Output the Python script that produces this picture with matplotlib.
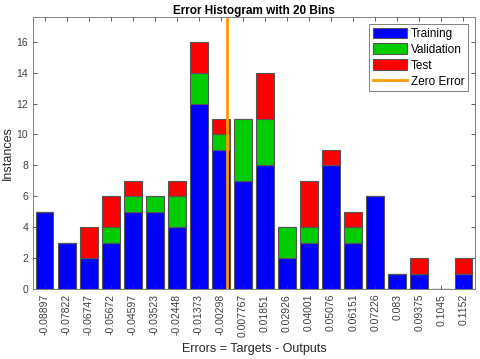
#!/usr/bin/env python3
import numpy as np
import matplotlib
matplotlib.use("Agg")
import matplotlib.pyplot as plt

# Bin centers (tick labels) and counts per bin
bin_labels = ["-0.08897", "-0.07822", "-0.06747", "-0.05672", "-0.04597",
              "-0.03523", "-0.02448", "-0.01373", "-0.00298", "0.007767",
              "0.01851", "0.02926", "0.04001", "0.05076", "0.06151",
              "0.07226", "0.083", "0.09375", "0.1045", "0.1152"]
bin_centers = [float(s) for s in bin_labels]
training = [5, 3, 2, 3, 5, 5, 4, 12, 9, 7, 8, 2, 3, 8, 3, 6, 1, 1, 0, 1]
validation = [0, 0, 0, 1, 1, 1, 2, 2, 1, 4, 3, 2, 1, 0, 1, 0, 0, 0, 0, 0]
test = [0, 0, 2, 2, 1, 0, 1, 2, 1, 0, 3, 0, 3, 1, 1, 0, 0, 1, 0, 1]

plt.rcParams['font.family'] = ['Liberation Sans', 'DejaVu Sans']

fig = plt.figure(figsize=(4.8, 3.59), dpi=100)
ax = fig.add_axes([33 / 480, 1 - 289 / 359, (475 - 33) / 480, (289 - 17) / 359])

x = np.arange(1, len(bin_labels) + 1)
tr = np.array(training)
va = np.array(validation)
te = np.array(test)
edge = '#555555'
b1 = ax.bar(x, tr, width=0.8, color=(0, 0, 1), edgecolor=edge, linewidth=0.8, label='Training')
b2 = ax.bar(x, va, width=0.8, bottom=tr, color=(0, 0.8, 0), edgecolor=edge, linewidth=0.8, label='Validation')
b3 = ax.bar(x, te, width=0.8, bottom=tr + va, color=(1, 0, 0), edgecolor=edge, linewidth=0.8, label='Test')

# zero error position interpolated between bin centers
zero_x = np.interp(0.0, bin_centers, x)
zl = ax.axvline(zero_x, color=(1, 0.6, 0), linewidth=2, label='Zero Error')

ax.set_xlim(0.47, 20.53)
ax.set_ylim(0, 17.6)
ax.set_yticks(np.arange(0, 17, 2))
ax.set_xticks(x)
ax.set_xticklabels(bin_labels, rotation=90)

ax.tick_params(direction='in', top=True, right=True, labelsize=7.5, colors='#404040',
               length=3, width=0.6)
for s in ax.spines.values():
    s.set_color('#808080')
    s.set_linewidth(0.7)

ax.set_title("Error Histogram with 20 Bins", fontsize=8.5, fontweight='bold', pad=2)
ax.set_xlabel("Errors = Targets - Outputs", fontsize=9, color='#262626')
ax.set_ylabel("Instances", fontsize=9, color='#262626', labelpad=2)
ax.xaxis.set_label_coords(0.5, -0.2)

leg = ax.legend(handles=[b1, b2, b3, zl], loc='upper right', fontsize=8.5, fancybox=False,
                framealpha=1, edgecolor='#808080', borderpad=0.3, labelspacing=0.3,
                handlelength=2.9, handleheight=1.0, handletextpad=0.3, borderaxespad=0.6)
leg.get_frame().set_linewidth(0.7)

fig.savefig("out.png", dpi=100)
